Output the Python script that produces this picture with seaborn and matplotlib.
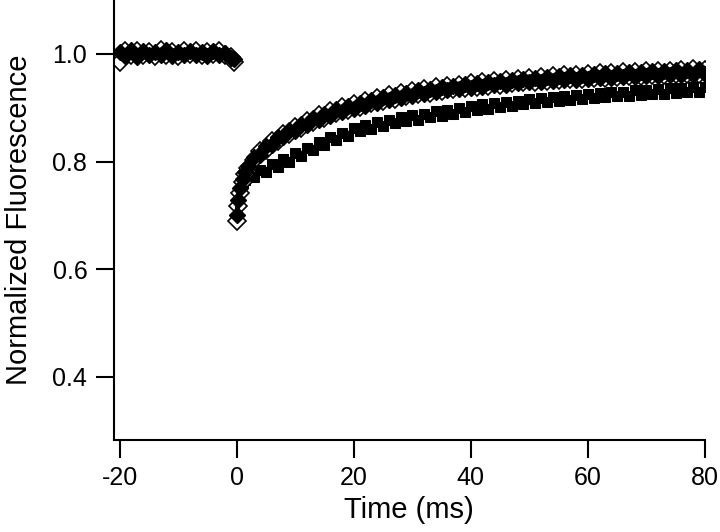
import numpy as np
import pandas as pd
import matplotlib
matplotlib.use('Agg')
import matplotlib.pyplot as plt
import seaborn as sb

# baseline before the step (two diamond traces)
t_pre = [-20, -19, -18, -17, -16, -15, -14, -13, -12, -11, -10, -9, -8, -7, -6, -5, -4, -3, -2, -1, -0.5]
a_pre = [0.985, 1.005, 0.998, 1.006, 0.997, 1.004, 0.996, 1.008, 0.998, 1.003, 0.996, 1.005, 0.999,
         1.006, 0.997, 1.004, 0.999, 1.005, 0.997, 0.995, 0.985]
b_pre = [1.004, 0.996, 1.007, 0.995, 1.005, 0.998, 1.004, 0.997, 1.007, 0.996, 1.004, 0.997, 1.005,
         0.998, 1.003, 0.996, 1.006, 0.997, 1.002, 0.993, 0.990]

# recovery after the step
t_post = [0, 0.25, 0.5, 1, 1.5, 2, 3, 4, 5, 6, 7, 8, 9, 10, 11, 12, 13, 14, 15, 16, 17, 18, 19, 20,
          21, 22, 23, 24, 25, 26, 27, 28, 29, 30, 31, 32, 33, 34, 35, 36, 37, 38, 39, 40,
          41, 42, 43, 44, 45, 46, 47, 48, 49, 50, 51, 52, 53, 54, 55, 56, 57, 58, 59, 60,
          61, 62, 63, 64, 65, 66, 67, 68, 69, 70, 71, 72, 73, 74, 75, 76, 77, 78, 79, 80]
a_post = [0.690, 0.718, 0.742, 0.762, 0.776, 0.788, 0.803, 0.819, 0.822, 0.838, 0.839, 0.852, 0.851, 0.865,
          0.862, 0.876, 0.873, 0.886, 0.881, 0.894, 0.890, 0.901, 0.896, 0.906,
          0.902, 0.913, 0.908, 0.918, 0.913, 0.923, 0.917, 0.927, 0.921, 0.931,
          0.925, 0.935, 0.928, 0.938, 0.931, 0.941, 0.934, 0.943, 0.937, 0.946,
          0.939, 0.948, 0.941, 0.950, 0.943, 0.952, 0.945, 0.954, 0.947, 0.956,
          0.948, 0.957, 0.950, 0.959, 0.951, 0.960, 0.953, 0.961, 0.954, 0.963,
          0.955, 0.964, 0.956, 0.965, 0.957, 0.966, 0.958, 0.967, 0.959, 0.968,
          0.960, 0.969, 0.961, 0.969, 0.962, 0.970, 0.962, 0.971, 0.963, 0.970]
b_post = [0.700, 0.728, 0.750, 0.768, 0.780, 0.792, 0.808, 0.812, 0.829, 0.830, 0.846, 0.845, 0.858, 0.856,
          0.870, 0.867, 0.880, 0.877, 0.889, 0.885, 0.897, 0.892, 0.903, 0.898,
          0.909, 0.904, 0.915, 0.909, 0.920, 0.914, 0.924, 0.918, 0.928, 0.922,
          0.932, 0.925, 0.935, 0.929, 0.938, 0.932, 0.941, 0.934, 0.944, 0.937,
          0.946, 0.939, 0.948, 0.942, 0.950, 0.943, 0.952, 0.945, 0.954, 0.947,
          0.956, 0.948, 0.957, 0.950, 0.959, 0.951, 0.960, 0.952, 0.961, 0.954,
          0.962, 0.955, 0.964, 0.956, 0.965, 0.957, 0.966, 0.957, 0.967, 0.958,
          0.968, 0.959, 0.969, 0.960, 0.970, 0.960, 0.970, 0.961, 0.971, 0.962]

# square trace (slower recovery)
t_sq = [0.5, 1, 1.5, 2, 3, 4, 5, 6, 7, 8, 9, 10, 11, 12, 13, 14, 15, 16, 17, 18, 19, 20,
        21, 22, 23, 24, 25, 26, 27, 28, 29, 30, 31, 32, 33, 34, 35, 36, 37, 38, 39, 40,
        41, 42, 43, 44, 45, 46, 47, 48, 49, 50, 51, 52, 53, 54, 55, 56, 57, 58, 59, 60,
        61, 62, 63, 64, 65, 66, 67, 68, 69, 70, 71, 72, 73, 74, 75, 76, 77, 78, 79, 80]
c_sq = [0.745, 0.762, 0.766, 0.775, 0.772, 0.784, 0.781, 0.795, 0.790, 0.805, 0.800, 0.815,
        0.811, 0.826, 0.821, 0.836, 0.831, 0.845, 0.840, 0.853, 0.848, 0.862,
        0.856, 0.867, 0.861, 0.873, 0.866, 0.878, 0.871, 0.882, 0.875, 0.886,
        0.878, 0.889, 0.882, 0.893, 0.885, 0.896, 0.889, 0.900, 0.892, 0.903,
        0.895, 0.906, 0.898, 0.908, 0.901, 0.911, 0.903, 0.913, 0.906, 0.916,
        0.908, 0.918, 0.910, 0.920, 0.912, 0.922, 0.914, 0.924, 0.916, 0.925,
        0.918, 0.927, 0.919, 0.929, 0.921, 0.930, 0.922, 0.932, 0.924, 0.933,
        0.925, 0.935, 0.926, 0.936, 0.928, 0.937, 0.929, 0.938, 0.930, 0.939]

sb.set_style('ticks')
plt.rcParams['font.family'] = ['Liberation Sans', 'DejaVu Sans']
plt.rcParams['text.color'] = 'black'
plt.rcParams['axes.labelcolor'] = 'black'

fig = plt.figure(figsize=(7.2, 5.32), dpi=100)
ax = fig.add_axes([0.158, 0.173, 0.821, 0.827])

# squares first, diamonds on top
sb.lineplot(x=t_sq, y=c_sq, ax=ax, sort=False, marker='s', markersize=7.5, color='black',
            markeredgecolor='black', lw=3.5)

open_d = dict(marker='D', markersize=9, markerfacecolor='white', markeredgecolor='black',
              markeredgewidth=1.2, color='black', lw=3.5)
full_d = dict(marker='D', markersize=8.5, markerfacecolor='black', markeredgecolor='black',
              markeredgewidth=1.0, color='black', lw=3.5)
sb.lineplot(x=t_pre, y=a_pre, ax=ax, sort=False, **open_d)
sb.lineplot(x=t_post, y=a_post, ax=ax, sort=False, **open_d)
sb.lineplot(x=t_pre, y=b_pre, ax=ax, sort=False, **full_d)
sb.lineplot(x=t_post, y=b_post, ax=ax, sort=False, **full_d)

ax.set_xlim(-21, 80)
ax.set_ylim(0.283, 1.10)
ax.set_xticks([-20, 0, 20, 40, 60, 80])
ax.set_yticks([0.4, 0.6, 0.8, 1.0])
ax.set_xticklabels(['-20', '0', '20', '40', '60', '80'])
ax.set_yticklabels(['0.4', '0.6', '0.8', '1.0'])
ax.tick_params(direction='out', length=13, width=1.5, labelsize=18, color='black',
               labelcolor='black', pad=6)
for s in ['left', 'bottom']:
    ax.spines[s].set_linewidth(1.5)
    ax.spines[s].set_color('black')
sb.despine(ax=ax)
ax.set_xlabel('Time (ms)', fontsize=21, labelpad=4)
ax.set_ylabel('Normalized Fluorescence', fontsize=21, labelpad=14)

fig.savefig('out.png', dpi=100)
